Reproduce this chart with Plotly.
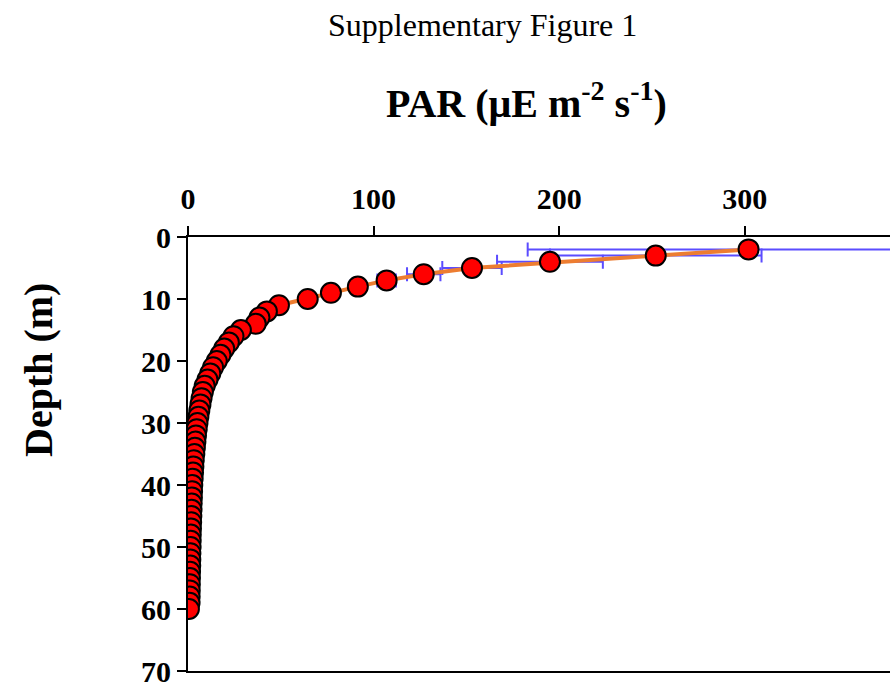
import plotly.graph_objects as go

depth = list(range(2, 61))
par = [302, 252, 195, 153, 127, 107, 91.5, 77, 64.5, 49, 42.5, 38.5, 36.5, 28.5,
       24.5, 22, 19.5, 17.5, 15.5, 13.5, 12, 10.5, 9, 8, 7.3, 6.7, 6.1, 5.6, 5.1,
       4.7, 4.3, 4.0, 3.7, 3.4, 3.1, 2.9, 2.7, 2.5, 2.3, 2.2, 2.1, 2.0, 1.9, 1.8,
       1.7, 1.6, 1.5, 1.45, 1.4, 1.3, 1.25, 1.2, 1.1, 1.05, 1.0, 0.95, 0.9, 0.85, 0.5]
par_err = [119, 57, 28.5, 16, 9, 5, 4, 3, 2.5, 2, 1.8, 1.6, 1.4, 1.2,
           1.1, 1.0, 0.9, 0.8, 0.7, 0.6, 0.5, 0.5, 0.4, 0.4, 0.3, 0.3, 0.3, 0.3, 0.2,
           0.2, 0.2, 0.2, 0.2, 0.2, 0.1, 0.1, 0.1, 0.1, 0.1, 0.1, 0.1, 0.1, 0.1, 0.1,
           0.1, 0.1, 0.1, 0.1, 0.1, 0.1, 0.1, 0.1, 0.1, 0.1, 0.1, 0.1, 0.1, 0.1, 0.1]
x_ticks = [0, 100, 200, 300]
y_ticks = [0, 10, 20, 30, 40, 50, 60, 70]

SERIF = "Liberation Serif, Times New Roman, serif"

L, R, T, B = 188, 890, 237, 671

fig = go.Figure()
fig.add_trace(go.Scatter(
    x=par, y=depth, mode="lines+markers",
    line=dict(color="#ED7D31", width=4),
    marker=dict(size=20, color="#FF0000", line=dict(color="#000000", width=2)),
    error_x=dict(type="data", array=par_err, visible=True,
                 color="#5B4CFF", thickness=2, width=7),
    showlegend=False,
))

fig.update_layout(
    width=890, height=691,
    margin=dict(l=L, r=890 - R, t=T, b=691 - B),
    paper_bgcolor="white", plot_bgcolor="white",
    font=dict(family=SERIF, size=30, color="black"),
    xaxis=dict(
        range=[0, 378.2], side="top", tickvals=x_ticks,
        showline=True, linecolor="black", linewidth=2, mirror=True,
        ticks="outside", ticklen=9, tickwidth=2, tickcolor="black",
        ticklabelstandoff=5,
        showgrid=False, zeroline=False,
        tickfont=dict(family=SERIF, size=30, color="black", weight="bold"),
    ),
    yaxis=dict(
        range=[70, 0], tickvals=y_ticks,
        showline=True, linecolor="black", linewidth=2,
        ticks="outside", ticklen=9, tickwidth=2, tickcolor="black",
        showgrid=False, zeroline=False,
        tickfont=dict(family=SERIF, size=30, color="black", weight="bold"),
    ),
)


def px(xp):
    return (xp - L) / (R - L)


def py(yp):
    return (B - yp) / (B - T)


fig.add_annotation(text="Supplementary Figure 1", x=px(482), y=py(25), xref="paper", yref="paper",
                   showarrow=False, xanchor="center", yanchor="middle",
                   font=dict(family=SERIF, size=32, color="black"))
fig.add_annotation(text="<b>PAR (μE m<sup>-2</sup> s<sup>-1</sup>)</b>", x=px(526), y=py(100),
                   xref="paper", yref="paper", showarrow=False, xanchor="center", yanchor="middle",
                   font=dict(family=SERIF, size=40, color="black"))
fig.add_annotation(text="<b>Depth (m)</b>", x=px(38), y=py(370), xref="paper", yref="paper",
                   showarrow=False, xanchor="center", yanchor="middle", textangle=-90,
                   font=dict(family=SERIF, size=40, color="black"))

fig.write_html("out.html")
